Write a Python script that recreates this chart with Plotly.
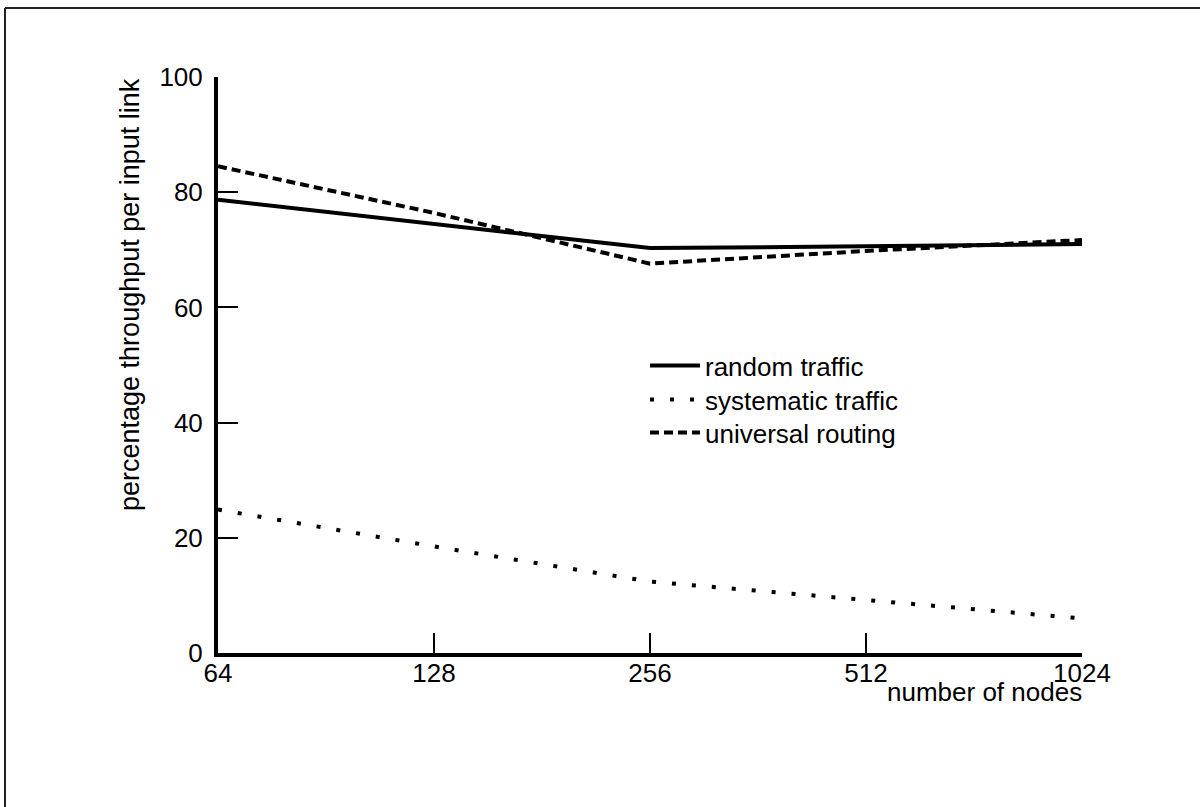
import plotly.graph_objects as go

nodes = [64, 128, 256, 512, 1024]
tick_labels = ["64", "128", "256", "512", "1024"]
random_traffic = [78.7, 74.5, 70.3, 70.6, 71.0]
systematic_traffic = [24.9, 18.5, 12.4, 9.2, 6.0]
universal_routing = [84.5, 76.4, 67.6, 69.8, 71.7]
y_ticks = [0, 20, 40, 60, 80, 100]

W, H = 1200, 807
L, R, T, B = 218, 1082, 77, 653

def px_x(p):
    return (p - L) / (R - L)

def px_y(p):
    return (B - p) / (B - T)

FONT = "Liberation Sans, Arial, Helvetica, sans-serif"

fig = go.Figure()
fig.add_trace(go.Scatter(x=nodes, y=random_traffic, mode="lines", name="random traffic",
                         line=dict(color="black", width=4), legend="legend"))
fig.add_trace(go.Scatter(x=nodes, y=systematic_traffic, mode="lines", name="systematic traffic",
                         line=dict(color="black", width=4, dash="4px,16px"), legend="legend2"))
fig.add_trace(go.Scatter(x=nodes, y=universal_routing, mode="lines", name="universal routing",
                         line=dict(color="black", width=4, dash="9px,5px"), legend="legend3"))

def leg(top):
    return dict(x=px_x(645), y=px_y(top), xanchor="left", yanchor="top",
                bgcolor="rgba(0,0,0,0)", borderwidth=0, itemwidth=50,
                font=dict(size=26, family=FONT, color="black"))

fig.update_layout(
    width=W, height=H,
    margin=dict(l=L, r=W - R, t=T, b=H - B),
    paper_bgcolor="white", plot_bgcolor="white",
    font=dict(family=FONT, size=26, color="black"),
    showlegend=True,
    legend=leg(342),
    legend2=leg(376),
    legend3=leg(409),
    xaxis=dict(type="log", range=[1.80618, 3.0103], tickvals=nodes, ticktext=tick_labels,
               showline=True, linecolor="black", linewidth=4, ticks="inside", ticklen=20,
               tickwidth=2, tickcolor="black", showgrid=False, zeroline=False,
               ticklabelstandoff=-6, tickfont=dict(size=26)),
    yaxis=dict(range=[0, 100], tickvals=y_ticks, showline=True, linecolor="black", linewidth=4,
               ticks="inside", ticklen=20, tickwidth=2, tickcolor="black", showgrid=False,
               zeroline=False, ticklabelstandoff=6, tickfont=dict(size=26)),
    annotations=[
        dict(text="percentage throughput per input link", xref="paper", yref="paper",
             x=px_x(130), y=px_y(295), xanchor="center", yanchor="middle", textangle=-90,
             showarrow=False, font=dict(size=27)),
        dict(text="number of nodes", xref="paper", yref="paper",
             x=px_x(1084), y=px_y(692), xanchor="right", yanchor="middle",
             showarrow=False, font=dict(size=26)),
    ],
    shapes=[
        dict(type="line", xref="paper", yref="paper", x0=px_x(5), x1=px_x(1205),
             y0=px_y(8), y1=px_y(8), line=dict(color="#222", width=2)),
        dict(type="line", xref="paper", yref="paper", x0=px_x(5), x1=px_x(5),
             y0=px_y(8), y1=px_y(810), line=dict(color="#222", width=2)),
    ],
)

fig.write_html("out.html", config={"displayModeBar": False},
               post_script="document.body.style.margin='0px';")
